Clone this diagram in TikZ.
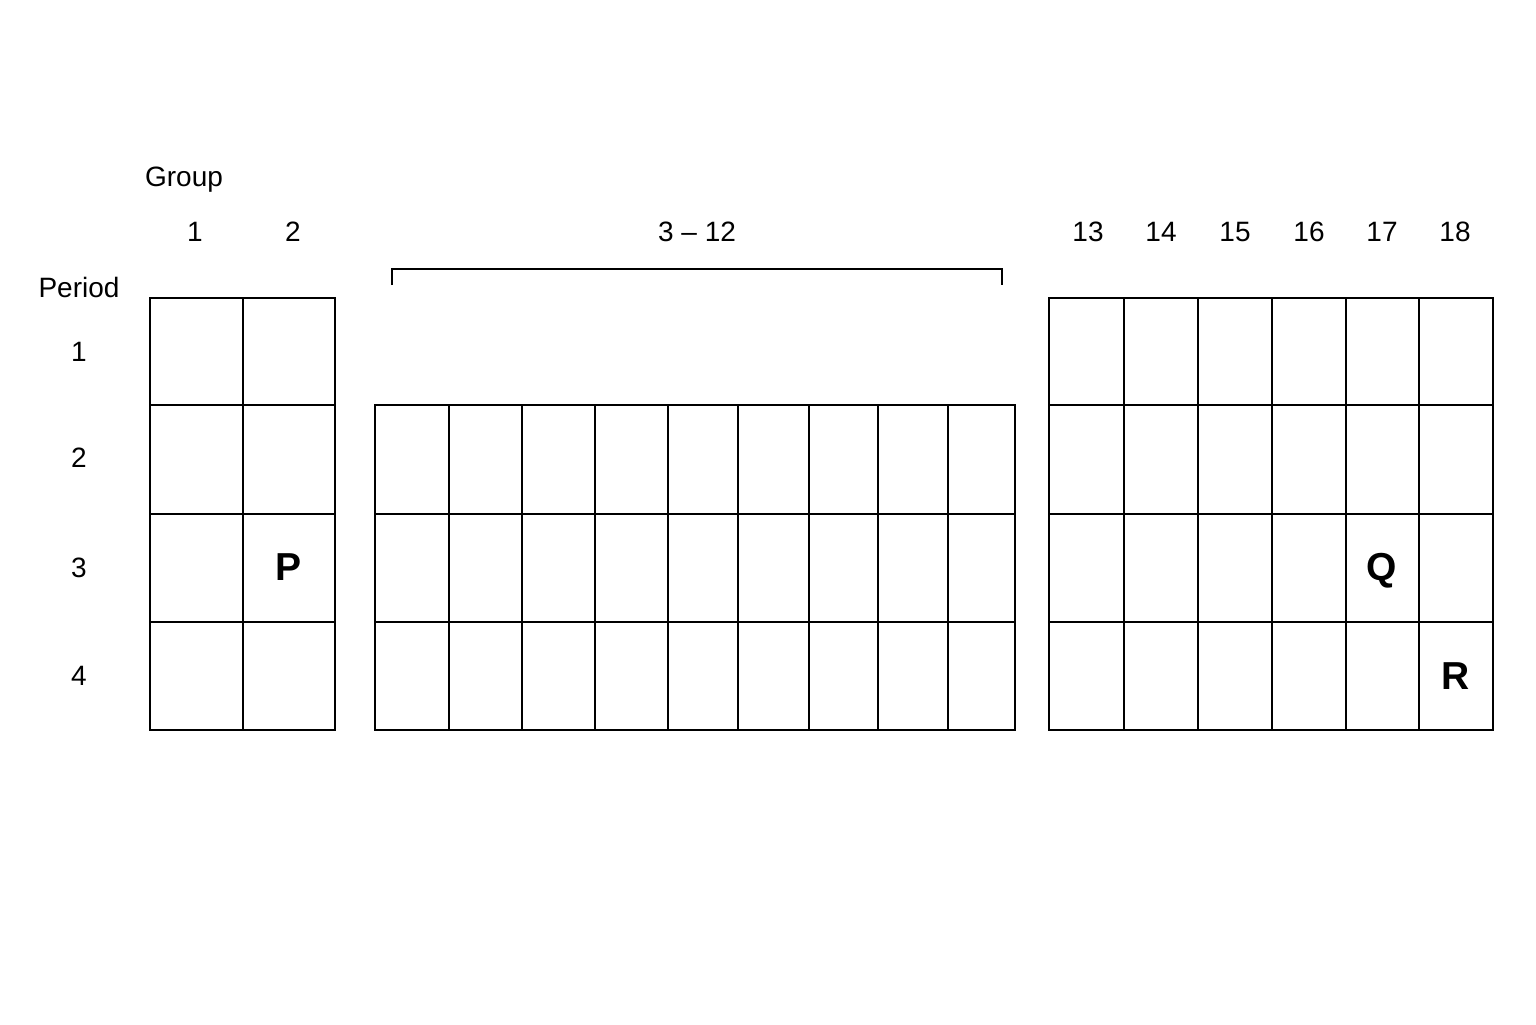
\documentclass[tikz,border=0pt]{standalone}
\usepackage{fontspec}
\setmainfont{Liberation Sans}
\begin{document}
\begin{tikzpicture}[x=0.5pt,y=-0.5pt,
  lbl/.style={font=\fontsize{14}{17}\selectfont, inner sep=0pt, anchor=base},
  elem/.style={font=\fontsize{19.5}{24}\selectfont\bfseries, inner sep=0pt, anchor=base},
  cellline/.style={line width=1pt, line cap=rect}]
\useasboundingbox (0,0) rectangle (1536,1024);
% headings
\node[lbl] (group) at (184,186) {Group};
\node[lbl] (period) at (79,297) {Period};
\foreach \n/\x in {1/195,2/293,13/1088,14/1161,15/1235,16/1309,17/1382,18/1455}
  \node[lbl] (g\n) at (\x,241) {\n};
\node[lbl] (gmid) at (697,241) {3 -- 12};
\foreach \n/\y in {1/361.5,2/467.5,3/577.5,4/685.5}
  \node[lbl] (p\n) at (79,\y) {\n};
% bracket over groups 3-12
\coordinate (brl) at (392,285);
\coordinate (brr) at (1002,285);
\draw[line width=0.8pt] (brl) -- ++(0,-16) -| (brr);
% s block
\foreach \x in {150,243,335} \draw[cellline] (\x,298) -- (\x,730);
\foreach \y in {298,405,514,622,730} \draw[cellline] (150,\y) -- (335,\y);
% d block
\foreach \x in {375,449,522,595,668,738,809,878,948,1015} \draw[cellline] (\x,405) -- (\x,730);
\foreach \y in {405,514,622,730} \draw[cellline] (375,\y) -- (1015,\y);
% p block
\foreach \x in {1049,1124,1198,1272,1346,1419,1493} \draw[cellline] (\x,298) -- (\x,730);
\foreach \y in {298,405,514,622,730} \draw[cellline] (1049,\y) -- (1493,\y);
% elements
\node[elem] (elP) at (289,580.5) {P};
\node[elem] (elQ) at (1382,580) {Q};
\node[elem] (elR) at (1456,689.5) {R};
\end{tikzpicture}
\end{document}
